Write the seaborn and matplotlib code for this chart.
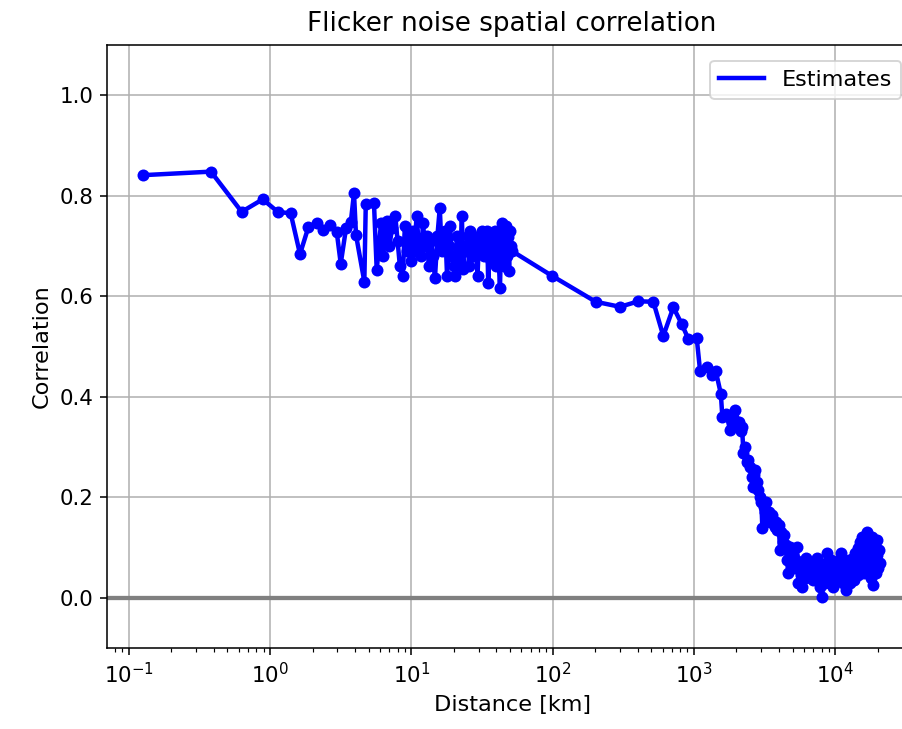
import matplotlib
matplotlib.use("Agg")
import matplotlib.pyplot as plt
import seaborn as sns
import numpy as np
import pandas as pd

# ---- data ----
dist_near = [0.127, 0.382, 0.63, 0.888, 1.134, 1.40, 1.63, 1.866, 2.14, 2.36, 2.66,
             2.965, 3.166, 3.45, 3.73, 3.93, 4.06, 4.65, 4.76, 5.44, 5.69]
corr_near = [0.841, 0.848, 0.768, 0.793, 0.768, 0.765, 0.684, 0.737, 0.745, 0.732, 0.742,
             0.728, 0.665, 0.735, 0.748, 0.805, 0.722, 0.629, 0.783, 0.786, 0.652]

dist_cluster = [6.1, 6.3, 6.5, 6.7, 7.0, 7.3, 7.7, 8.0, 8.3, 8.7,
                9.0, 9.3, 9.6, 9.9, 10.2, 10.5, 10.9, 11.3, 11.7, 12.1,
                12.5, 12.9, 13.3, 13.8, 14.2, 14.7, 15.3, 15.9, 16.4, 16.9,
                17.4, 17.9, 18.4, 18.8, 19.4, 19.9, 20.4, 21.0, 21.6, 22.2,
                22.8, 23.2, 23.8, 24.4, 25.0, 25.6, 26.1, 26.8, 27.5, 28.2,
                28.8, 29.4, 30.2, 31.0, 31.7, 32.5, 33.3, 34.4, 35.0, 35.8,
                36.6, 37.4, 38.2, 39.0, 39.8, 40.6, 41.4, 42.4, 43.1, 43.8,
                44.6, 45.4, 46.2, 47.0, 47.7, 48.4, 49.2, 50.0, 50.8, 51.6]
corr_cluster = [0.745, 0.68, 0.72, 0.75, 0.70, 0.735, 0.76, 0.71, 0.66, 0.64,
                0.74, 0.69, 0.72, 0.67, 0.73, 0.69, 0.76, 0.70, 0.68, 0.745,
                0.70, 0.72, 0.66, 0.71, 0.68, 0.636, 0.72, 0.776, 0.69, 0.70,
                0.73, 0.64, 0.70, 0.74, 0.68, 0.66, 0.64, 0.72, 0.70, 0.67,
                0.76, 0.655, 0.70, 0.69, 0.72, 0.66, 0.73, 0.70, 0.68, 0.715,
                0.69, 0.64, 0.72, 0.70, 0.73, 0.68, 0.71, 0.73, 0.626, 0.70,
                0.67, 0.72, 0.69, 0.73, 0.66, 0.71, 0.68, 0.617, 0.70, 0.745,
                0.73, 0.66, 0.70, 0.74, 0.68, 0.718, 0.65, 0.73, 0.70, 0.69]

dist_mid = [98.5, 202, 300, 405, 516, 607, 715, 819, 913, 1047, 1105, 1245, 1340, 1425]
corr_mid = [0.641, 0.589, 0.579, 0.590, 0.589, 0.521, 0.578, 0.545, 0.515, 0.516,
            0.452, 0.459, 0.443, 0.452]

dist_far = [1550, 1590, 1700, 1800, 1880, 1953, 2020, 2090, 2150, 2190,
            2240, 2300, 2370, 2430, 2500, 2560, 2600, 2650, 2700, 2780,
            2850, 2920, 3000, 3050, 3120, 3180, 3240, 3300, 3380, 3460,
            3540, 3630, 3720, 3810, 3900, 3980, 4065, 4150, 4250, 4350,
            4450, 4550, 4650, 4750, 4850, 4950, 5050, 5150, 5250, 5370,
            5480, 5600, 5720, 5850, 5980, 6120, 6260, 6400, 6550, 6700,
            6850, 7000, 7150, 7300, 7450, 7600, 7750, 7900, 8050, 8200,
            8400, 8600, 8800, 9000, 9200, 9400, 9600, 9800, 10000, 10200,
            10400, 10600, 10800, 11000, 11200, 11400, 11600, 11800, 12000, 12200,
            12400, 12600, 12800, 13000, 13200, 13400, 13600, 13800, 14000, 14200,
            14400, 14600, 14800, 15000, 15200, 15400, 15600, 15800, 16000, 16200,
            16400, 16600, 16800, 17000, 17200, 17400, 17600, 17800, 18000, 18200,
            18400, 18600, 18800, 19000, 19200, 19400, 19600, 19800, 20000, 20300, 20600]
corr_far = [0.406, 0.359, 0.365, 0.334, 0.36, 0.374, 0.345, 0.35, 0.331, 0.34,
            0.288, 0.30, 0.27, 0.274, 0.26, 0.24, 0.22, 0.245, 0.254, 0.23,
            0.215, 0.20, 0.19, 0.139, 0.18, 0.17, 0.191, 0.161, 0.17, 0.15,
            0.165, 0.155, 0.14, 0.15, 0.135, 0.145, 0.095, 0.13, 0.11, 0.125,
            0.105, 0.075, 0.05, 0.101, 0.09, 0.07, 0.085, 0.06, 0.075, 0.101,
            0.03, 0.06, 0.045, 0.022, 0.07, 0.04, 0.08, 0.056, 0.065, 0.04,
            0.06, 0.035, 0.07, 0.05, 0.08, 0.04, 0.022, 0.06, 0.002, 0.045,
            0.03, 0.07, 0.09, 0.04, 0.05, 0.075, 0.022, 0.065, 0.04, 0.06,
            0.035, 0.075, 0.05, 0.09, 0.056, 0.03, 0.07, 0.045, 0.016, 0.06,
            0.04, 0.075, 0.03, 0.065, 0.05, 0.08, 0.035, 0.09, 0.06, 0.05,
            0.10, 0.045, 0.085, 0.11, 0.06, 0.12, 0.075, 0.10, 0.05, 0.115,
            0.07, 0.095, 0.13, 0.06, 0.105, 0.08, 0.115, 0.04, 0.09, 0.12,
            0.065, 0.026, 0.10, 0.07, 0.11, 0.05, 0.085, 0.115, 0.06, 0.095, 0.07]

series_label = "Estimates"
title_text = "Flicker noise spatial correlation"
xlabel_text = "Distance [km]"
ylabel_text = "Correlation"

df = pd.DataFrame({
    "distance": dist_near + dist_cluster + dist_mid + dist_far,
    "correlation": corr_near + corr_cluster + corr_mid + corr_far,
})

# ---- figure ----
dpi = 140
fig = plt.figure(figsize=(902 / dpi, 729 / dpi), dpi=dpi)
ax = fig.add_axes([107 / 902, 1 - 648 / 729, 810 / 902, 603 / 729])

sns.lineplot(data=df, x="distance", y="correlation", ax=ax, sort=False,
             estimator=None, color="blue", linewidth=2.3, label=series_label, zorder=3)
sns.scatterplot(data=df, x="distance", y="correlation", ax=ax, color="blue",
                s=38, linewidth=0, legend=False, zorder=4)
ax.axhline(0, color="gray", linewidth=2.2, zorder=2)

ax.set_xscale("log")
ax.set_xlim(0.0702, 37900)
ax.set_ylim(-0.1, 1.1)
ax.set_yticks([0.0, 0.2, 0.4, 0.6, 0.8, 1.0])
ax.grid(True, which="major", color="#b0b0b0", linewidth=0.8)
ax.set_axisbelow(True)
ax.tick_params(axis="both", which="major", labelsize=11)
ax.set_title(title_text, fontsize=13.5, pad=7)
ax.set_xlabel(xlabel_text, fontsize=11.5)
ax.set_ylabel(ylabel_text, fontsize=11.5)
ax.legend(loc="upper right", fontsize=11.5, borderaxespad=0.7)

fig.savefig("out.png", dpi=dpi)
